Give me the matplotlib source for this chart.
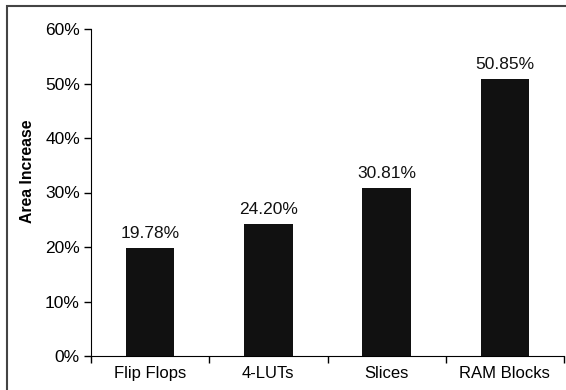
import matplotlib.pyplot as plt
from matplotlib.patches import Rectangle
from matplotlib.ticker import FuncFormatter

categories = ['Flip Flops', '4-LUTs', 'Slices', 'RAM Blocks']
increase = [19.78, 24.20, 30.81, 50.85]
y_ticks = [0, 10, 20, 30, 40, 50, 60]

plt.rcParams['font.family'] = ['Liberation Sans', 'DejaVu Sans']

fig = plt.figure(figsize=(5.66, 3.9), dpi=100)
# outer frame, cut off at right and bottom like the reference
fig.patches.append(Rectangle((7 / 566, -0.05), 1.2, (390 - 6) / 390 + 0.05,
                             transform=fig.transFigure, fill=False,
                             edgecolor='#444444', linewidth=1.5))

ax = fig.add_axes([91 / 566, 34 / 390, 473 / 566, 327 / 390])
x = range(len(categories))
bars = ax.bar(x, increase, width=0.41, color='#111111')

for b, v in zip(bars, increase):
    ax.text(b.get_x() + b.get_width() / 2, v + 1.3, '%.2f%%' % v,
            ha='center', va='bottom', fontsize=12.5, color='#111111')

ax.set_xlim(-0.5, len(categories) - 0.5)
ax.set_ylim(0, 60)
ax.set_yticks(y_ticks)
ax.yaxis.set_major_formatter(FuncFormatter(lambda v, p: '%d%%' % v))
ax.set_xticks(x)
ax.set_xticklabels(categories, fontsize=12)
ax.set_xticks([i + 0.5 for i in range(-1, len(categories))], minor=True)
ax.tick_params(axis='x', which='major', length=0, pad=7)
ax.tick_params(axis='x', which='minor', length=5, direction='out', width=1)
ax.tick_params(axis='y', length=5, direction='out', width=1, labelsize=12.5, pad=3)

ax.spines['top'].set_visible(False)
ax.spines['right'].set_visible(False)
ax.set_ylabel('Area Increase', fontsize=11.3, fontweight='bold')
ax.yaxis.set_label_coords(-0.118, 0.564)

fig.savefig('out.png', dpi=100)
